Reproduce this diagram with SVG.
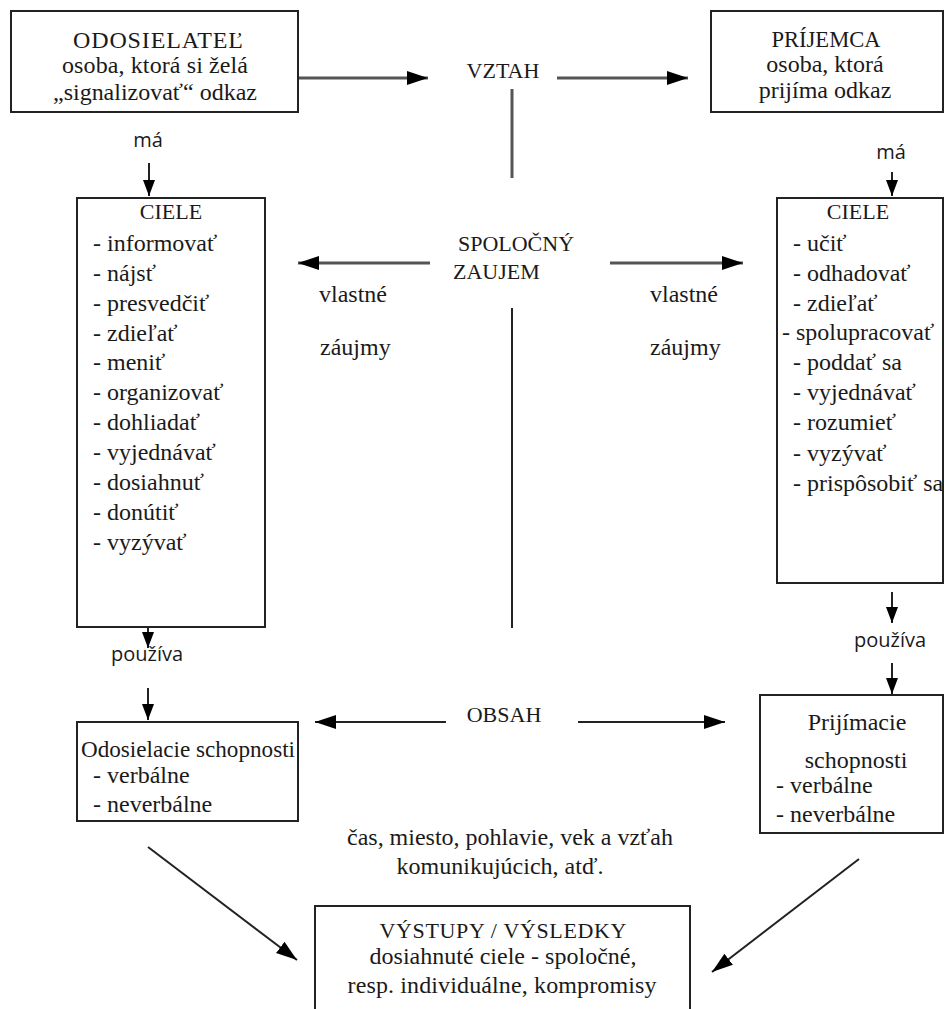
<svg xmlns="http://www.w3.org/2000/svg" width="946" height="1009" viewBox="0 0 946 1009">
<style>
  .box { fill: #fff; stroke: #222; stroke-width: 2; }
  .t { font-family: "Liberation Serif", "Times New Roman", serif; font-size: 24px; fill: #1a1a1a; }
  .h { font-family: "Liberation Serif", "Times New Roman", serif; font-size: 22px; fill: #1a1a1a; }
  .s { font-family: "Open Sans", "Liberation Sans", sans-serif; font-size: 20px; fill: #1a1a1a; }
  .m { text-anchor: middle; }
  .cg { stroke: #555; stroke-width: 3; fill: none; }
  .c { stroke: #222; stroke-width: 2; fill: none; }
  .ah { marker-end: url(#big); }
  .as { marker-end: url(#small); }
</style>
<defs>
  <marker id="big" markerUnits="userSpaceOnUse" markerWidth="22" markerHeight="16" refX="21" refY="8" orient="auto">
    <path d="M0,1 L21,8 L0,15 z" fill="#000"/>
  </marker>
  <marker id="small" markerUnits="userSpaceOnUse" markerWidth="16" markerHeight="14" refX="16" refY="7" orient="auto">
    <path d="M0,1 L16,7 L0,13 z" fill="#000"/>
  </marker>
</defs>
<rect width="946" height="1009" fill="#fff"/>

<g id="connectors">
  <line class="cg ah" x1="298" y1="78" x2="428" y2="78"/>
  <line class="cg ah" x1="557" y1="78" x2="688" y2="78"/>
  <line class="cg" x1="512" y1="89" x2="512" y2="178"/>
  <line class="cg ah" x1="430" y1="263" x2="298" y2="263"/>
  <line class="cg ah" x1="610" y1="263" x2="743" y2="263"/>
  <line class="c" x1="512" y1="308" x2="512" y2="628"/>
  <line class="c ah" x1="446" y1="722" x2="315" y2="722"/>
  <line class="c ah" x1="578" y1="722" x2="725" y2="722"/>
  <line class="c as" x1="149" y1="163" x2="149" y2="196"/>
  <line class="c as" x1="892" y1="172" x2="892" y2="196"/>
  <line class="c as" x1="148" y1="618" x2="148" y2="648"/>
  <line class="c as" x1="148" y1="688" x2="148" y2="720"/>
  <line class="c as" x1="892" y1="592" x2="892" y2="623"/>
  <line class="c as" x1="892" y1="663" x2="892" y2="694"/>
  <line class="c ah" x1="148" y1="847" x2="297" y2="960"/>
  <line class="c ah" x1="859" y1="859" x2="712" y2="972"/>
</g>

<g id="odosielatel">
  <rect class="box" x="11" y="11" width="287" height="101"/>
  <text class="t m" x="158" y="48" textLength="170" lengthAdjust="spacing">ODOSIELATEĽ</text>
  <text class="t m" x="155" y="73" textLength="186" lengthAdjust="spacing">osoba, ktorá si želá</text>
  <text class="t m" x="155" y="100" textLength="204" lengthAdjust="spacing">„signalizovať“ odkaz</text>
</g>

<g id="vztah">
  <text class="h m" x="503" y="78">VZTAH</text>
</g>

<g id="prijemca">
  <rect class="box" x="711" y="11" width="232" height="101"/>
  <text class="t m" x="826" y="47" textLength="109" lengthAdjust="spacingAndGlyphs">PRÍJEMCA</text>
  <text class="t m" x="825" y="72">osoba, ktorá</text>
  <text class="t m" x="825" y="98">prijíma odkaz</text>
</g>

<g id="label-ma-left"><text class="s m" x="148" y="147">má</text></g>
<g id="label-ma-right"><text class="s m" x="891" y="159">má</text></g>

<g id="ciele-left">
  <rect class="box" x="77" y="198" width="188" height="429"/>
  <text class="h m" x="171" y="219">CIELE</text>
  <text class="t" x="93" y="251">- informovať</text>
  <text class="t" x="93" y="281">- nájsť</text>
  <text class="t" x="93" y="311">- presvedčiť</text>
  <text class="t" x="93" y="341">- zdieľať</text>
  <text class="t" x="93" y="370">- meniť</text>
  <text class="t" x="93" y="400">- organizovať</text>
  <text class="t" x="93" y="430">- dohliadať</text>
  <text class="t" x="93" y="460">- vyjednávať</text>
  <text class="t" x="93" y="490">- dosiahnuť</text>
  <text class="t" x="93" y="520">- donútiť</text>
  <text class="t" x="93" y="550">- vyzývať</text>
</g>

<g id="spolocny-zaujem">
  <text class="h m" x="516" y="251">SPOLOČNÝ</text>
  <text class="h" x="453" y="279">ZAUJEM</text>
</g>

<g id="vlastne-left">
  <text class="t" x="319" y="302">vlastné</text>
  <text class="t" x="320" y="355">záujmy</text>
</g>
<g id="vlastne-right">
  <text class="t" x="650" y="302">vlastné</text>
  <text class="t" x="650" y="355">záujmy</text>
</g>

<g id="ciele-right">
  <rect class="box" x="777" y="198" width="166" height="385"/>
  <text class="h m" x="858" y="219">CIELE</text>
  <text class="t" x="793" y="251">- učiť</text>
  <text class="t" x="793" y="281">- odhadovať</text>
  <text class="t" x="793" y="311">- zdieľať</text>
  <text class="t" x="782" y="340">- spolupracovať</text>
  <text class="t" x="793" y="370">- poddať sa</text>
  <text class="t" x="793" y="400">- vyjednávať</text>
  <text class="t" x="793" y="430">- rozumieť</text>
  <text class="t" x="793" y="461">- vyzývať</text>
  <text class="t" x="793" y="491">- prispôsobiť sa</text>
</g>

<g id="label-pouziva-left"><text class="s m" x="147" y="661">používa</text></g>
<g id="label-pouziva-right"><text class="s m" x="890" y="647">používa</text></g>

<g id="obsah">
  <text class="h m" x="504" y="722">OBSAH</text>
</g>

<g id="odosielacie-schopnosti">
  <rect class="box" x="77" y="722" width="221" height="99"/>
  <text class="t" x="81" y="757" textLength="214" lengthAdjust="spacingAndGlyphs">Odosielacie schopnosti</text>
  <text class="t" x="93" y="783">- verbálne</text>
  <text class="t" x="93" y="812">- neverbálne</text>
</g>

<g id="prijimacie-schopnosti">
  <rect class="box" x="760" y="695" width="183" height="138"/>
  <text class="t m" x="857" y="730">Prijímacie</text>
  <text class="t m" x="856" y="768">schopnosti</text>
  <text class="t" x="776" y="793">- verbálne</text>
  <text class="t" x="776" y="822">- neverbálne</text>
</g>

<g id="kontext">
  <text class="t m" x="510" y="845" textLength="326" lengthAdjust="spacing">čas, miesto, pohlavie, vek a vzťah</text>
  <text class="t m" x="500" y="874">komunikujúcich, atď.</text>
</g>

<g id="vystupy">
  <rect class="box" x="315" y="906" width="375" height="120"/>
  <text class="h m" x="503" y="938" textLength="247" lengthAdjust="spacing">VÝSTUPY / VÝSLEDKY</text>
  <text class="t m" x="503" y="964" textLength="267" lengthAdjust="spacing">dosiahnuté ciele - spoločné,</text>
  <text class="t m" x="502" y="993" textLength="309" lengthAdjust="spacing">resp. individuálne, kompromisy</text>
</g>
</svg>
